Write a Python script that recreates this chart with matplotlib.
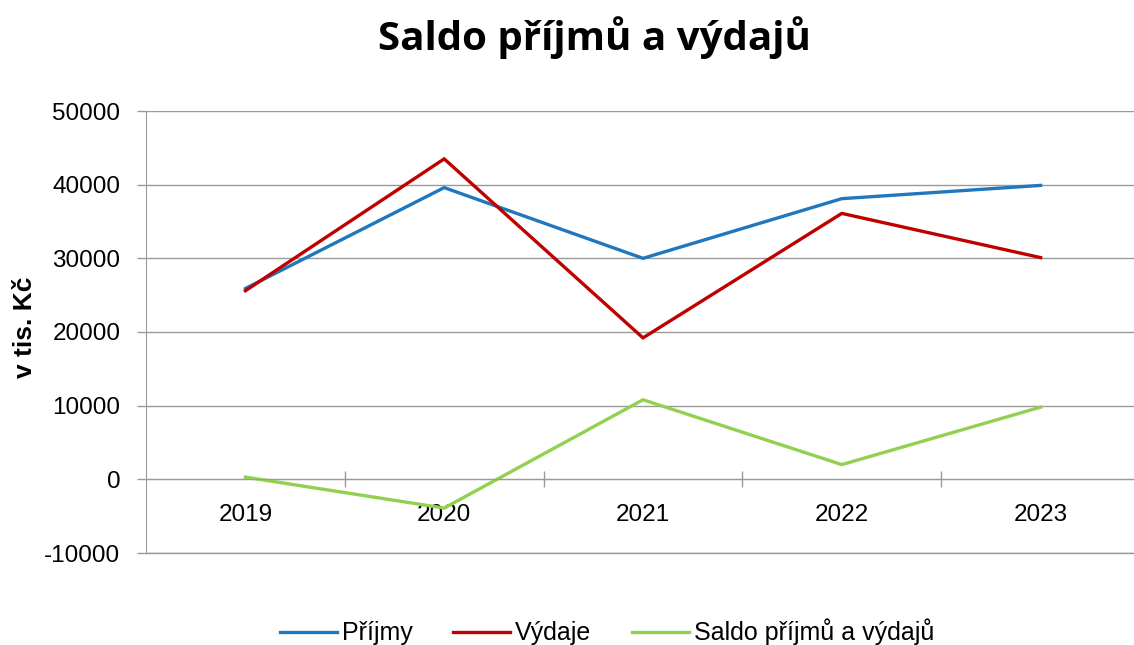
"""
Saldo příjmů a výdajů - line chart
"""

import matplotlib.pyplot as plt

years = ["2019", "2020", "2021", "2022", "2023"]
prijmy = [25900, 39600, 30000, 38100, 39900]
vydaje = [25600, 43500, 19200, 36100, 30100]
saldo = [300, -3900, 10800, 2000, 9800]

plt.rcParams["font.family"] = ["Liberation Sans", "DejaVu Sans"]
plt.rcParams["axes.unicode_minus"] = False

fig = plt.figure(figsize=(11.34, 6.45), dpi=100)
ax = fig.add_axes([146 / 1134, 1 - 553 / 645, (1140 - 146) / 1134, (553 - 111) / 645])

x = list(range(len(years)))
ax.plot(x, prijmy, color="#2177BD", lw=2.4, label="Příjmy", solid_joinstyle="miter")
ax.plot(x, vydaje, color="#C00000", lw=2.4, label="Výdaje", solid_joinstyle="miter")
ax.plot(x, saldo, color="#92D050", lw=2.4, label="Saldo příjmů a výdajů", solid_joinstyle="miter")

ax.set_xlim(-0.5, 4.5)
ax.set_ylim(-10000, 50000)
ax.set_yticks(range(-10000, 50001, 10000))
ax.yaxis.grid(True, color="#9A9A9A", lw=1.0)
ax.axhline(-10000, color="#9A9A9A", lw=1.0, clip_on=False, zorder=0.5)
ax.set_axisbelow(True)

# category boundaries get tick marks, labels sit at the centres
ax.set_xticks([0.5, 1.5, 2.5, 3.5])
ax.set_xticklabels([])
ax.set_xticks(x, minor=True)
ax.set_xticklabels(years, minor=True)
ax.tick_params(axis="x", which="major", direction="inout", length=12, color="#9A9A9A", width=1.0)
ax.tick_params(axis="x", which="minor", length=0, pad=18, labelsize=17.5)
ax.tick_params(axis="y", direction="out", length=6.5, color="#9A9A9A", width=1.0, pad=12, labelsize=17.5)

for side in ["top", "right"]:
    ax.spines[side].set_visible(False)
ax.spines["bottom"].set_position(("data", 0))
ax.spines["bottom"].set_color("#9A9A9A")
ax.spines["left"].set_color("#9A9A9A")

fig.text(25 / 1134, 1 - 327 / 645, "v tis. Kč", rotation=90, ha="center", va="center",
         fontsize=19, fontweight="bold")
fig.text(594 / 1134, 1 - 38 / 645, "Saldo příjmů a výdajů", ha="center", va="center",
         fontsize=29, fontweight="bold", family=["Open Sans", "DejaVu Sans"])

fig.legend(loc="center", bbox_to_anchor=(607 / 1134, 1 - 632 / 645), ncol=3, frameon=False,
           fontsize=18, handlelength=2.3, handletextpad=0.2, columnspacing=1.6)

fig.savefig("out.png", dpi=100)
